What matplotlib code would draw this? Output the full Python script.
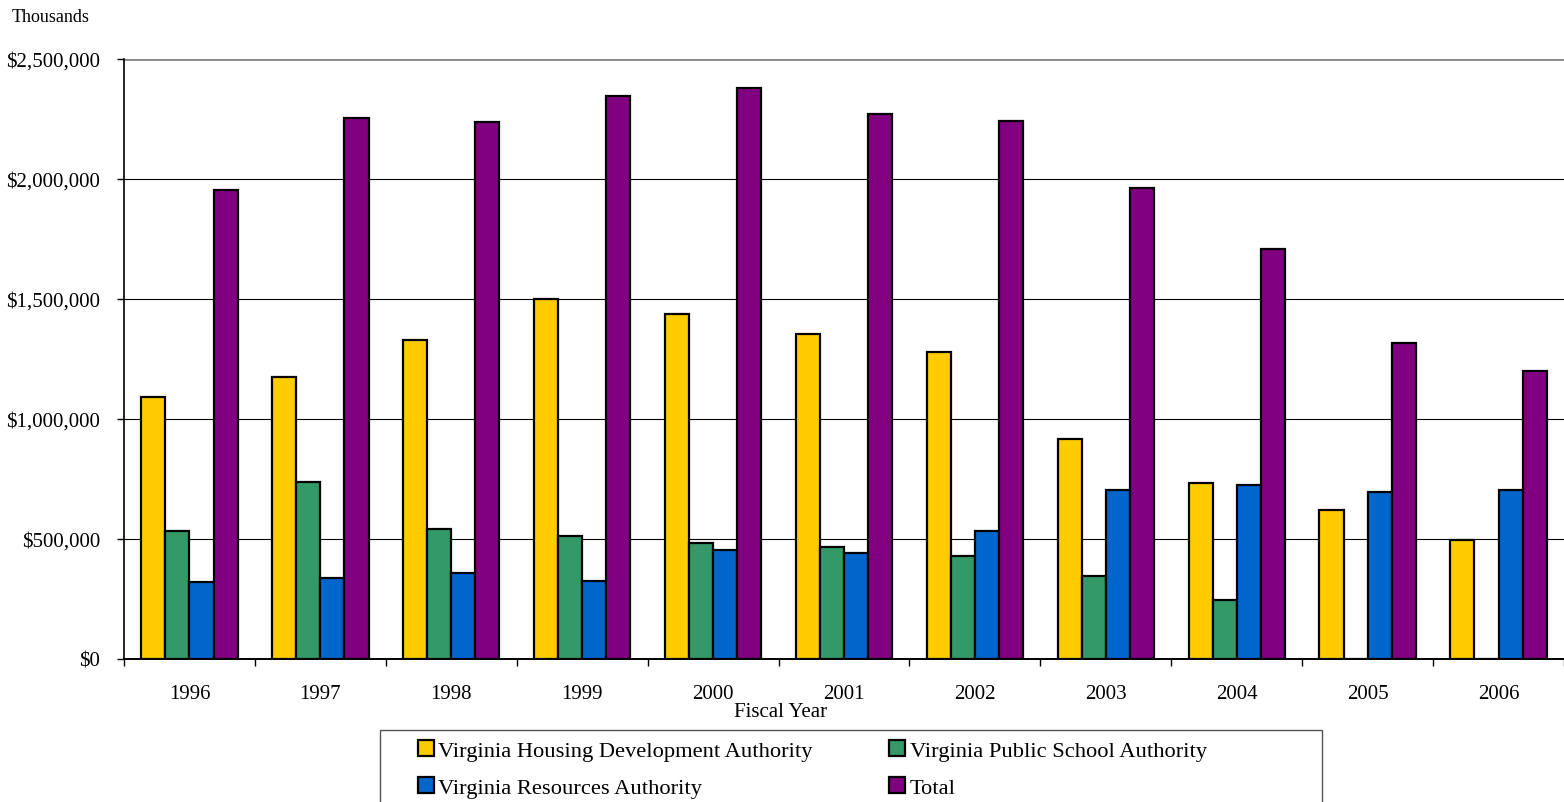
import numpy as np
import matplotlib
matplotlib.use("Agg")
import matplotlib.pyplot as plt
from matplotlib.patches import Rectangle
from matplotlib.ticker import FuncFormatter

years = ['1996', '1997', '1998', '1999', '2000', '2001', '2002', '2003', '2004', '2005', '2006']
vhda = [1092000, 1175000, 1329000, 1500000, 1437000, 1354000, 1279000, 917000, 733000, 621000, 496000]
vpsa = [533000, 737000, 542000, 512000, 483000, 467000, 429000, 346000, 246000, 0, 0]
vra = [321000, 337000, 358000, 325000, 454000, 442000, 533000, 704000, 725000, 696000, 704000]
total = [1954000, 2254000, 2237000, 2346000, 2379000, 2271000, 2242000, 1962000, 1708000, 1317000, 1200000]

labels = ['Virginia Housing Development Authority', 'Virginia Public School Authority',
          'Virginia Resources Authority', 'Total']
colors = ['#FFCC00', '#339966', '#0066CC', '#800080']

plt.rcParams['font.family'] = ['Liberation Serif', 'DejaVu Serif']

fig = plt.figure(figsize=(15.64, 8.03), dpi=100)
ax = fig.add_axes([124 / 1564, 1 - 660 / 803, 1440 / 1564, 600 / 803])

x = np.arange(len(years))
w = 0.184
handles = []
for i, (vals, c, lab) in enumerate(zip([vhda, vpsa, vra, total], colors, labels)):
    b = ax.bar(x + (i - 1.5) * w, vals, w, color=c, edgecolor='black', linewidth=1.6,
               label=lab, zorder=3)
    handles.append(b)

ax.set_xlim(-0.5, len(years) - 0.5)
ax.set_ylim(0, 2500000)
ax.set_yticks(np.arange(0, 2500001, 500000))
ax.yaxis.set_major_formatter(FuncFormatter(lambda v, p: '${:,.0f}'.format(v)))
for yv in np.arange(500000, 2500000, 500000):
    ax.axhline(yv, color='black', linewidth=0.8, zorder=1)
ax.axhline(2500000, color='#888888', linewidth=2.0, zorder=1)

ax.set_xticks(x)
ax.set_xticklabels(years)
ax.set_xticks(np.arange(-0.5, len(years), 1), minor=True)
ax.tick_params(axis='x', which='major', length=0, pad=18, labelsize=15)
ax.tick_params(axis='x', which='minor', length=5, width=1, direction='out')
ax.tick_params(axis='y', length=5, width=1, direction='out', labelsize=15, pad=12)

for s in ['top', 'right']:
    ax.spines[s].set_visible(False)
ax.spines['left'].set_linewidth(1.2)
ax.spines['bottom'].set_linewidth(1.4)

fig.text(781 / 1564, 1 - 713 / 803, 'Fiscal Year', fontsize=15, va='center', ha='center')
fig.text(12 / 1564, 1 - 17 / 803, 'Thousands', fontsize=13, va='center', ha='left')

# legend box drawn separately, entries placed row by row
fig.patches.append(Rectangle((380 / 1564, -2 / 803), 942 / 1564, 731 / 803,
                             transform=fig.transFigure, facecolor='none',
                             edgecolor='#555555', linewidth=1.0))
fig.patches[-1].set_height(74 / 803)
order = [0, 2, 1, 3]
leg = fig.legend(handles=[handles[k] for k in order], labels=[labels[k] for k in order],
                 loc='upper left', bbox_to_anchor=(418 / 1564, 1 - 741 / 803),
                 ncol=2, fontsize=16.2, frameon=False,
                 handlelength=0.7, handleheight=0.7, handletextpad=0.2,
                 columnspacing=3.4, borderpad=0, labelspacing=0.72, borderaxespad=0)

fig.savefig('out.png', dpi=100)
